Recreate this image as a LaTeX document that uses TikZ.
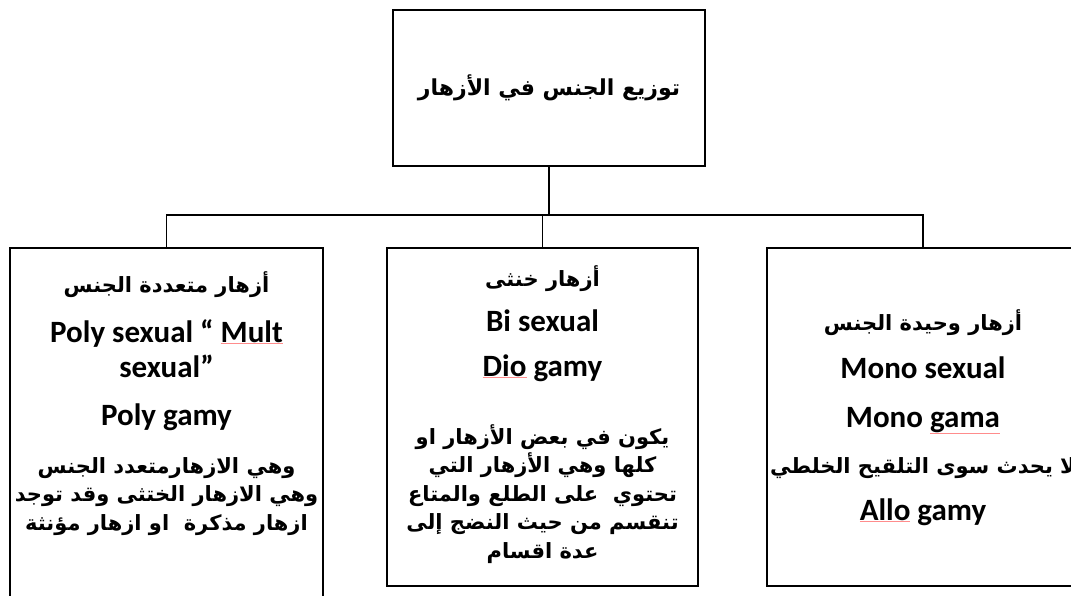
\documentclass[tikz,border=0pt]{standalone}
\usepackage{fontspec}
\usepackage{xcolor}
\newfontfamily\arabicfont[Script=Arabic]{DejaVu Sans}
\newfontfamily\latinfont{Carlito}
\TeXXeTstate=1
\setlength{\lineskiplimit}{-100pt}
\usetikzlibrary{positioning}
\newcommand{\en}[1]{{\latinfont\fontsize{31}{36}\selectfont #1}}
\newcommand{\spell}[1]{{\color{red!45}\underline{\color{black}#1}}}

\begin{document}
\begin{tikzpicture}[
    x=1pt, y=-1pt,
    box/.style={draw, line width=1.5pt, inner sep=0pt},
    txt/.style={align=center, inner sep=0pt, anchor=base,
                font=\arabicfont\bfseries\fontsize{21}{28.5}\selectfont},
    conn/.style={line width=1.5pt}
]
\useasboundingbox (0,0) rectangle (1071,596);
\node[box, minimum width=312pt, minimum height=156pt] (root) at (549,88) {};
\node[txt, font=\arabicfont\bfseries\fontsize{22}{28}\selectfont, anchor=center] (roottext) at (root) {\beginR توزيع الجنس في الأزهار\endR};

\node[box, minimum width=313pt, minimum height=372pt] (poly) at (166.5,434) {};
\node[box, minimum width=311pt, minimum height=338pt] (bi) at (542.5,417) {};
\node[box, minimum width=312pt, minimum height=338pt] (mono) at (923,417) {};

\coordinate (bar) at (549,215);
\draw[conn] (root) -- (bar);
\draw[conn] (poly.north) |- (bar) -| (mono.north);
\draw[conn] (bi.north) -- (bi.north |- bar);

% text of the three boxes
\node[txt] (polytext) at (166.5,530) {\beginR أزهار متعددة الجنس\endR\\[21.5pt]
    \en{Poly sexual “ \spell{Mult}}\\[6.5pt]
    \en{sexual”}\\[19.5pt]
    \en{Poly gamy}\\[19.5pt]
    \beginR وهي الازهارمتعدد الجنس\endR\\
    \beginR وهي الازهار الختثى وقد توجد\endR\\
    \beginR ازهار مذكرة~ او ازهار مؤنثة\endR};
\node[txt] (bitext) at (542.5,558) {\beginR أزهار خنثى\endR\\[16.5pt]
    \en{Bi sexual}\\[16.5pt]
    \en{\spell{Dio} gamy}\\[39.5pt]
    \beginR يكون في بعض الأزهار او\endR\\
    \beginR كلها وهي الأزهار التي\endR\\
    \beginR تحتوي~ على الطلع والمتاع\endR\\
    \beginR تنقسم من حيث النضج إلى\endR\\
    \beginR عدة اقسام\endR};
\node[txt] (monotext) at (923,520) {\beginR أزهار وحيدة الجنس\endR\\[19.5pt]
    \en{Mono sexual}\\[20.5pt]
    \en{Mono \spell{gama}}\\[17.5pt]
    \beginR لا يحدث سوى التلقيح الخلطي\endR\\[18.5pt]
    \en{\spell{Allo} gamy}};
\end{tikzpicture}
\end{document}
